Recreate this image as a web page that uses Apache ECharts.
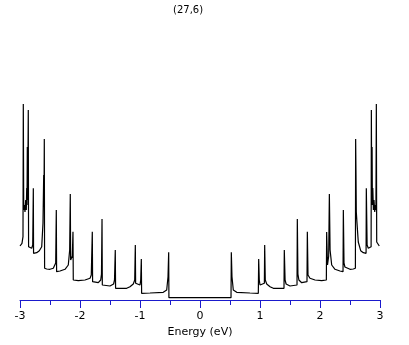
<!DOCTYPE html>
<html>
<head>
<meta charset="utf-8">
<script src="https://cdn.jsdelivr.net/npm/echarts@6/dist/echarts.min.js"></script>
<style>
  html, body { margin: 0; padding: 0; background: #fff; }
  #chart { width: 409px; height: 345px; }
</style>
</head>
<body>
<div id="chart"></div>
<script>
// (27,6) nanotube DOS
var chartTitle = "(27,6)";
var axisTitle = "Energy (eV)";

// valence side (E < 0), left to right
var energyNeg = [-3.000, -2.967, -2.950, -2.945, -2.938, -2.928, -2.917, -2.905, -2.895, -2.888,
  -2.883, -2.878, -2.872, -2.862, -2.857, -2.833, -2.805, -2.788, -2.778, -2.774,
  -2.722, -2.678, -2.638, -2.617, -2.605, -2.600, -2.595, -2.590, -2.555, -2.500,
  -2.445, -2.420, -2.405, -2.395, -2.390, -2.333, -2.250, -2.195, -2.172, -2.162, -2.156,
  -2.128, -2.117, -2.112, -2.028, -1.917, -1.833, -1.812, -1.795, -1.790, -1.695,
  -1.655, -1.642, -1.633, -1.628, -1.500, -1.440, -1.425, -1.412, -1.407, -1.222, -1.167, -1.112,
  -1.088, -1.078, -1.073, -1.000, -0.988, -0.978, -0.973, -0.833, -0.612, -0.555,
  -0.533, -0.522, -0.518, -0.250, 0.000];
var dosNeg = [54, 56.7, 63.3, 196, 90, 95, 88, 100, 90, 112,
  95, 153, 100, 190, 53.3, 52.7, 51.7, 55, 111.7, 46.7,
  47.3, 49.3, 53.3, 76.7, 125, 93.3, 161, 31.7, 31, 30.7,
  31.7, 33, 37, 90, 28.3, 29, 30.7, 35, 50, 106, 40,
  44, 68.3, 20, 19.3, 20, 21.7, 25, 68.3, 18.3, 17.3,
  20, 26, 81, 15, 14, 16, 20, 50, 11.7, 11.7, 13.3, 16,
  20, 55, 16.7, 15, 20, 41, 6.7, 7, 7.7, 10,
  23.3, 47.7, 2.3, 2.4, 2.3];

// conduction side (E > 0), left to right
var energyPos = [0.250, 0.517, 0.522, 0.533, 0.555, 0.612, 0.833, 0.972, 0.978, 0.988,
  1.000, 1.073, 1.078, 1.088, 1.112, 1.167, 1.222, 1.400, 1.405, 1.418, 1.435,
  1.500, 1.617, 1.622, 1.632, 1.648, 1.695, 1.783, 1.789, 1.800, 1.833, 1.917,
  2.028, 2.106, 2.111, 2.125, 2.145, 2.156, 2.168, 2.195, 2.250, 2.333,
  2.384, 2.389, 2.400, 2.415, 2.445, 2.500, 2.555, 2.590, 2.594, 2.600, 2.605,
  2.617, 2.638, 2.678, 2.722, 2.768, 2.772, 2.785, 2.805, 2.833, 2.852,
  2.856, 2.862, 2.868, 2.873, 2.880, 2.890, 2.900, 2.912, 2.922, 2.932,
  2.939, 2.945, 2.962, 2.988];
var dosPos = [2.3, 2.3, 47.7, 23.3, 10, 7.7, 7, 6.7, 41, 20,
  15, 16.7, 55, 20, 16, 13.3, 11.7, 11.7, 50, 20, 16,
  14, 15, 81, 26, 20, 17.3, 18.3, 68.3, 25, 21.7, 20,
  19.3, 20, 68, 35, 44, 106, 50, 35, 30.7, 29,
  28.3, 90, 37, 33, 31.7, 30.7, 31, 31.7, 161, 125, 88,
  76.7, 58, 49.3, 47.3, 46.7, 111.7, 55, 51.7, 52.7, 53.3,
  190, 100, 153, 95, 112, 90, 100, 88, 95, 90,
  196, 58, 56.7, 54];

var curve = [];
energyNeg.forEach(function (e, i) { curve.push([e, dosNeg[i]]); });
energyPos.forEach(function (e, i) { curve.push([e, dosPos[i]]); });

var axisBlue = "#1a1acc";
var chart = echarts.init(document.getElementById("chart"), null, { renderer: "canvas" });
chart.setOption({
  backgroundColor: "#ffffff",
  animation: false,
  title: {
    text: chartTitle,
    left: 168,
    top: 0,
    textStyle: { fontSize: 10, fontWeight: "normal", color: "#000", fontFamily: "DejaVu Sans" }
  },
  grid: { left: 20, right: 29, top: 100, bottom: 45, containLabel: false },
  xAxis: {
    type: "value",
    min: -3,
    max: 3,
    interval: 1,
    name: axisTitle,
    nameLocation: "middle",
    nameGap: 25,
    nameTextStyle: { color: "#000", fontSize: 11, fontFamily: "DejaVu Sans" },
    axisLine: { onZero: false, lineStyle: { color: axisBlue, width: 1 } },
    axisTick: { length: 8, lineStyle: { color: axisBlue, width: 1 } },
    minorTick: { show: true, splitNumber: 2, length: 5, lineStyle: { color: axisBlue, width: 1 } },
    axisLabel: { color: "#000", fontSize: 11, margin: 11, fontFamily: "DejaVu Sans" },
    splitLine: { show: false },
    minorSplitLine: { show: false }
  },
  yAxis: { type: "value", min: 0, max: 200, show: false },
  series: [{
    type: "line",
    data: curve,
    showSymbol: false,
    symbol: "none",
    smooth: false,
    clip: false,
    lineStyle: { color: "#000", width: 1.2 }
  }]
});
</script>
</body>
</html>
